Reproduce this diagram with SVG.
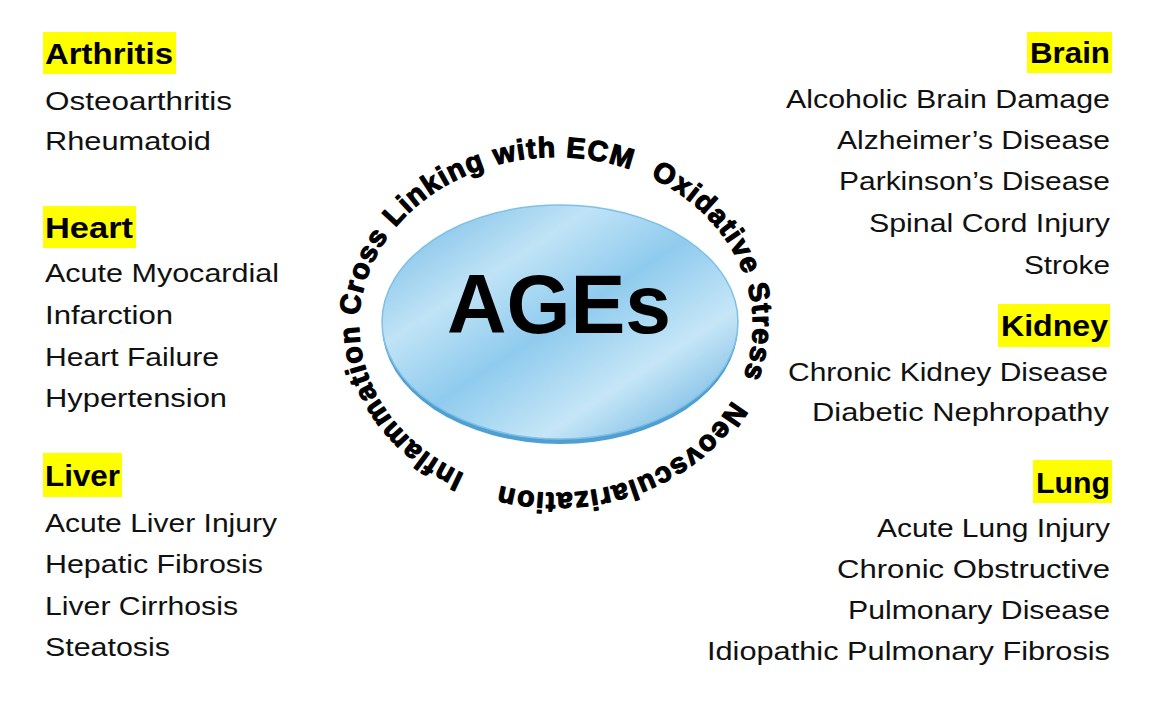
<svg xmlns="http://www.w3.org/2000/svg" width="1153" height="709" viewBox="0 0 1153 709">
<style>
.h{font-family:"Liberation Sans",Arial,sans-serif;font-weight:bold;font-size:29px;fill:#000}
.t{font-family:"Liberation Sans",Arial,sans-serif;font-size:26px;fill:#111}
.hl{fill:#ffff00}
.ring{font-family:"Liberation Sans",Arial,sans-serif;font-weight:bold;font-size:28.5px;letter-spacing:1.3px;fill:#000;stroke:#000;stroke-width:1.2px;stroke-linejoin:round}
.ages{font-family:"Liberation Sans",Arial,sans-serif;font-weight:bold;font-size:84px;fill:#000}
</style>
<defs>
<linearGradient id="g" x1="0" y1="0" x2="1" y2="1">
<stop offset="0" stop-color="#6cb7e4"/>
<stop offset="0.3" stop-color="#c0e3f6"/>
<stop offset="0.5" stop-color="#8fcbee"/>
<stop offset="0.72" stop-color="#c6e6f7"/>
<stop offset="1" stop-color="#5aa9dc"/>
</linearGradient>
<path id="ringPath" d="M556,493 A197,168 0 0 1 359,325 A197,168 0 0 1 556,157 A197,168 0 0 1 753,325 A197,168 0 0 1 556,493 A197,168 0 0 1 359,325 A197,168 0 0 1 556,157"/>
</defs>
<rect width="1153" height="709" fill="#fff"/>

<g id="ages">
<ellipse cx="560" cy="326" rx="178" ry="118" fill="#4f9fd2"/>
<ellipse cx="560" cy="322" rx="178" ry="117" fill="url(#g)" stroke="#7fc0e6" stroke-width="1.5"/>
<text class="ages" x="447" y="333" textLength="224" lengthAdjust="spacingAndGlyphs">AGEs</text>
</g>

<g id="mechanisms">
<text class="ring"><textPath href="#ringPath" startOffset="94">Inflammation Cross Linking with ECM</textPath></text>
<text class="ring"><textPath href="#ringPath" startOffset="671">Oxidative Stress</textPath></text>
<text class="ring"><textPath href="#ringPath" startOffset="940">Neovscularization</textPath></text>
</g>

<g id="arthritis">
<rect class="hl" x="43" y="32" width="133" height="42"/>
<text class="h" x="45" y="64" textLength="128" lengthAdjust="spacingAndGlyphs">Arthritis</text>
<text class="t" x="45" y="110" textLength="187" lengthAdjust="spacingAndGlyphs">Osteoarthritis</text>
<text class="t" x="45" y="150" textLength="166" lengthAdjust="spacingAndGlyphs">Rheumatoid</text>
</g>

<g id="heart">
<rect class="hl" x="43" y="206" width="93" height="42"/>
<text class="h" x="45" y="238" textLength="88" lengthAdjust="spacingAndGlyphs">Heart</text>
<text class="t" x="45" y="282" textLength="234" lengthAdjust="spacingAndGlyphs">Acute Myocardial</text>
<text class="t" x="45" y="324" textLength="128" lengthAdjust="spacingAndGlyphs">Infarction</text>
<text class="t" x="45" y="366" textLength="174" lengthAdjust="spacingAndGlyphs">Heart Failure</text>
<text class="t" x="45" y="407" textLength="182" lengthAdjust="spacingAndGlyphs">Hypertension</text>
</g>

<g id="liver">
<rect class="hl" x="43" y="453" width="79" height="44"/>
<text class="h" x="45" y="486" textLength="75" lengthAdjust="spacingAndGlyphs">Liver</text>
<text class="t" x="45" y="532" textLength="232" lengthAdjust="spacingAndGlyphs">Acute Liver Injury</text>
<text class="t" x="45" y="573" textLength="218" lengthAdjust="spacingAndGlyphs">Hepatic Fibrosis</text>
<text class="t" x="45" y="615" textLength="193" lengthAdjust="spacingAndGlyphs">Liver Cirrhosis</text>
<text class="t" x="45" y="656" textLength="125" lengthAdjust="spacingAndGlyphs">Steatosis</text>
</g>

<g id="brain">
<rect class="hl" x="1027" y="32" width="85" height="41"/>
<text class="h" x="1030" y="63" textLength="80" lengthAdjust="spacingAndGlyphs">Brain</text>
<text class="t" x="786" y="108" textLength="324" lengthAdjust="spacingAndGlyphs">Alcoholic Brain Damage</text>
<text class="t" x="837" y="149" textLength="273" lengthAdjust="spacingAndGlyphs">Alzheimer’s Disease</text>
<text class="t" x="839" y="190" textLength="271" lengthAdjust="spacingAndGlyphs">Parkinson’s Disease</text>
<text class="t" x="869" y="232" textLength="241" lengthAdjust="spacingAndGlyphs">Spinal Cord Injury</text>
<text class="t" x="1024" y="274" textLength="86" lengthAdjust="spacingAndGlyphs">Stroke</text>
</g>

<g id="kidney">
<rect class="hl" x="998" y="304" width="112" height="43"/>
<text class="h" x="1001" y="336" textLength="107" lengthAdjust="spacingAndGlyphs">Kidney</text>
<text class="t" x="788" y="381" textLength="320" lengthAdjust="spacingAndGlyphs">Chronic Kidney Disease</text>
<text class="t" x="812" y="421" textLength="297" lengthAdjust="spacingAndGlyphs">Diabetic Nephropathy</text>
</g>

<g id="lung">
<rect class="hl" x="1033" y="460" width="79" height="43"/>
<text class="h" x="1036" y="493" textLength="74" lengthAdjust="spacingAndGlyphs">Lung</text>
<text class="t" x="877" y="537" textLength="233" lengthAdjust="spacingAndGlyphs">Acute Lung Injury</text>
<text class="t" x="837" y="578" textLength="273" lengthAdjust="spacingAndGlyphs">Chronic Obstructive</text>
<text class="t" x="848" y="619" textLength="262" lengthAdjust="spacingAndGlyphs">Pulmonary Disease</text>
<text class="t" x="707" y="660" textLength="403" lengthAdjust="spacingAndGlyphs">Idiopathic Pulmonary Fibrosis</text>
</g>
</svg>
